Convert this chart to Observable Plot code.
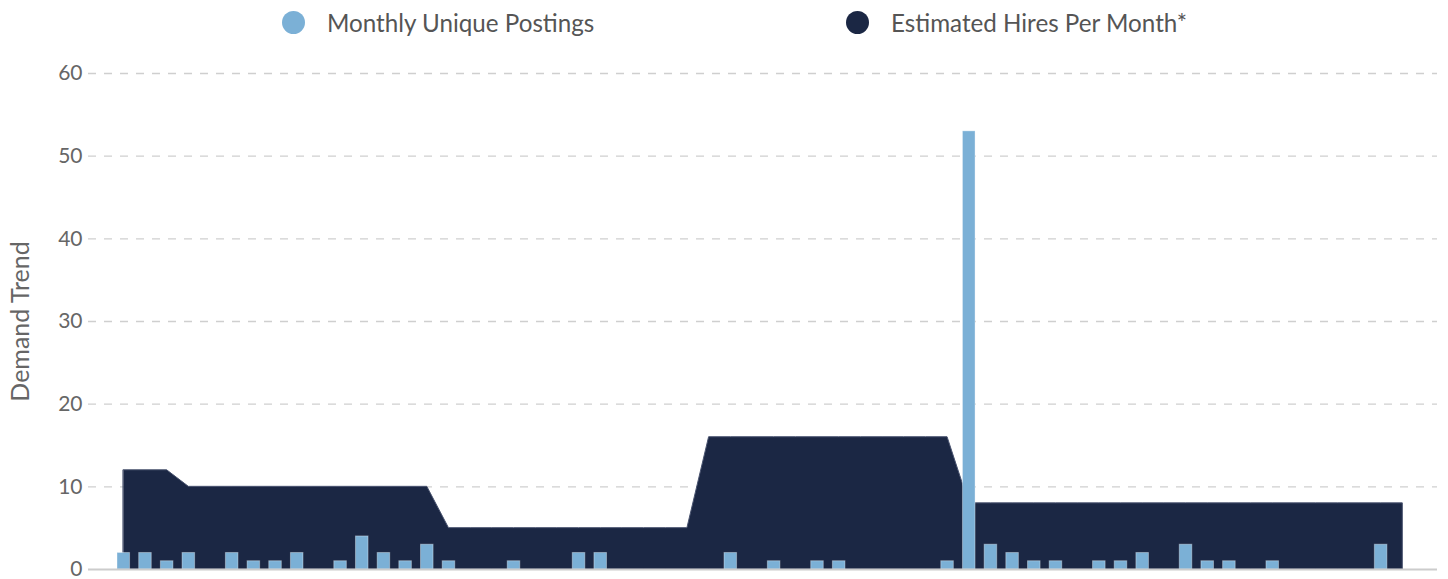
<!DOCTYPE html>
<html>
<head>
<meta charset="utf-8">
<script src="https://cdn.jsdelivr.net/npm/d3@7"></script>
<script src="https://cdn.jsdelivr.net/npm/@observablehq/plot@0.6"></script>
<style>
  body { margin: 0; background: #fff; font-family: Lato, "Open Sans", sans-serif; }
  #legend { position: relative; height: 46px; width: 1448px; }
  .item { position: absolute; top: 0; height: 44px; display: flex; align-items: center; font-size: 24.2px; color: #555; white-space: nowrap; }
  .dot { width: 23px; height: 23px; border-radius: 50%; }
  .lbl { margin-left: 22px; }
</style>
</head>
<body>
<div id="legend"></div>
<div id="chart"></div>
<script>
// ---- data ----
const seriesNames = ["Monthly Unique Postings", "Estimated Hires Per Month*"];
const seriesColors = ["#7bb0d6", "#1b2744"];
const months = d3.range(60); // month index (no x labels shown)
const postings = [2,2,1,2,0,2,1,1,2,0,1,4,2,1,3,1,0,0,1,0,0,2,2,0,0,0,0,0,2,0,1,0,1,1,0,0,0,0,1,53,3,2,1,1,0,1,1,2,0,3,1,1,0,1,0,0,0,0,3,0];
const hires = [12,12,12,10,10,10,10,10,10,10,10,10,10,10,10,5,5,5,5,5,5,5,5,5,5,5,5,16,16,16,16,16,16,16,16,16,16,16,16,8,8,8,8,8,8,8,8,8,8,8,8,8,8,8,8,8,8,8,8,8];
const yTicks = [0, 10, 20, 30, 40, 50, 60];
const yTitle = "Demand Trend";

// ---- legend ----
const legendPos = [282, 846];
const legend = document.getElementById("legend");
seriesNames.forEach((name, k) => {
  const it = document.createElement("div");
  it.className = "item";
  it.style.left = legendPos[k] + "px";
  it.innerHTML = `<span class="dot" style="background:${seriesColors[k]}"></span><span class="lbl">${name}</span>`;
  legend.appendChild(it);
});

// ---- chart ----
const data = months.map((m, i) => ({m, posting: postings[i], hire: hires[i]}));
const half = 0.29;

const chart = Plot.plot({
  width: 1448,
  height: 533,
  marginLeft: 88,
  marginRight: 11,
  marginTop: 27,
  marginBottom: 10,
  style: { fontFamily: "Lato, sans-serif", fontSize: "21px", color: "#666", background: "#fff" },
  x: { domain: [-1.628, 60.6], axis: null },
  y: { domain: [0, 60], ticks: yTicks, label: null },
  marks: [
    Plot.gridY(yTicks.filter(t => t > 0), { stroke: "#cfcfcf", strokeOpacity: 1, strokeWidth: 1.3, strokeDasharray: "8,8" }),
    Plot.areaY(data, { x: "m", y: "hire", fill: seriesColors[1], stroke: "#4a5470", strokeWidth: 1 }),
    Plot.rectY(data.filter(d => d.posting > 0), { x1: d => d.m - half, x2: d => d.m + half, y: "posting", fill: seriesColors[0], stroke: "#fff", strokeOpacity: 0.35, strokeWidth: 1 }),
    Plot.ruleY([0], { stroke: "#cccccc", strokeWidth: 2 }),
    Plot.axisY(yTicks, { tickSize: 0, tickPadding: 6, label: null, fill: "#666" }),
    Plot.text([yTitle], { frameAnchor: "left", textAnchor: "middle", dx: -68, rotate: -90, fontSize: 25, fill: "#666" })
  ]
});
document.getElementById("chart").appendChild(chart);
</script>
</body>
</html>
